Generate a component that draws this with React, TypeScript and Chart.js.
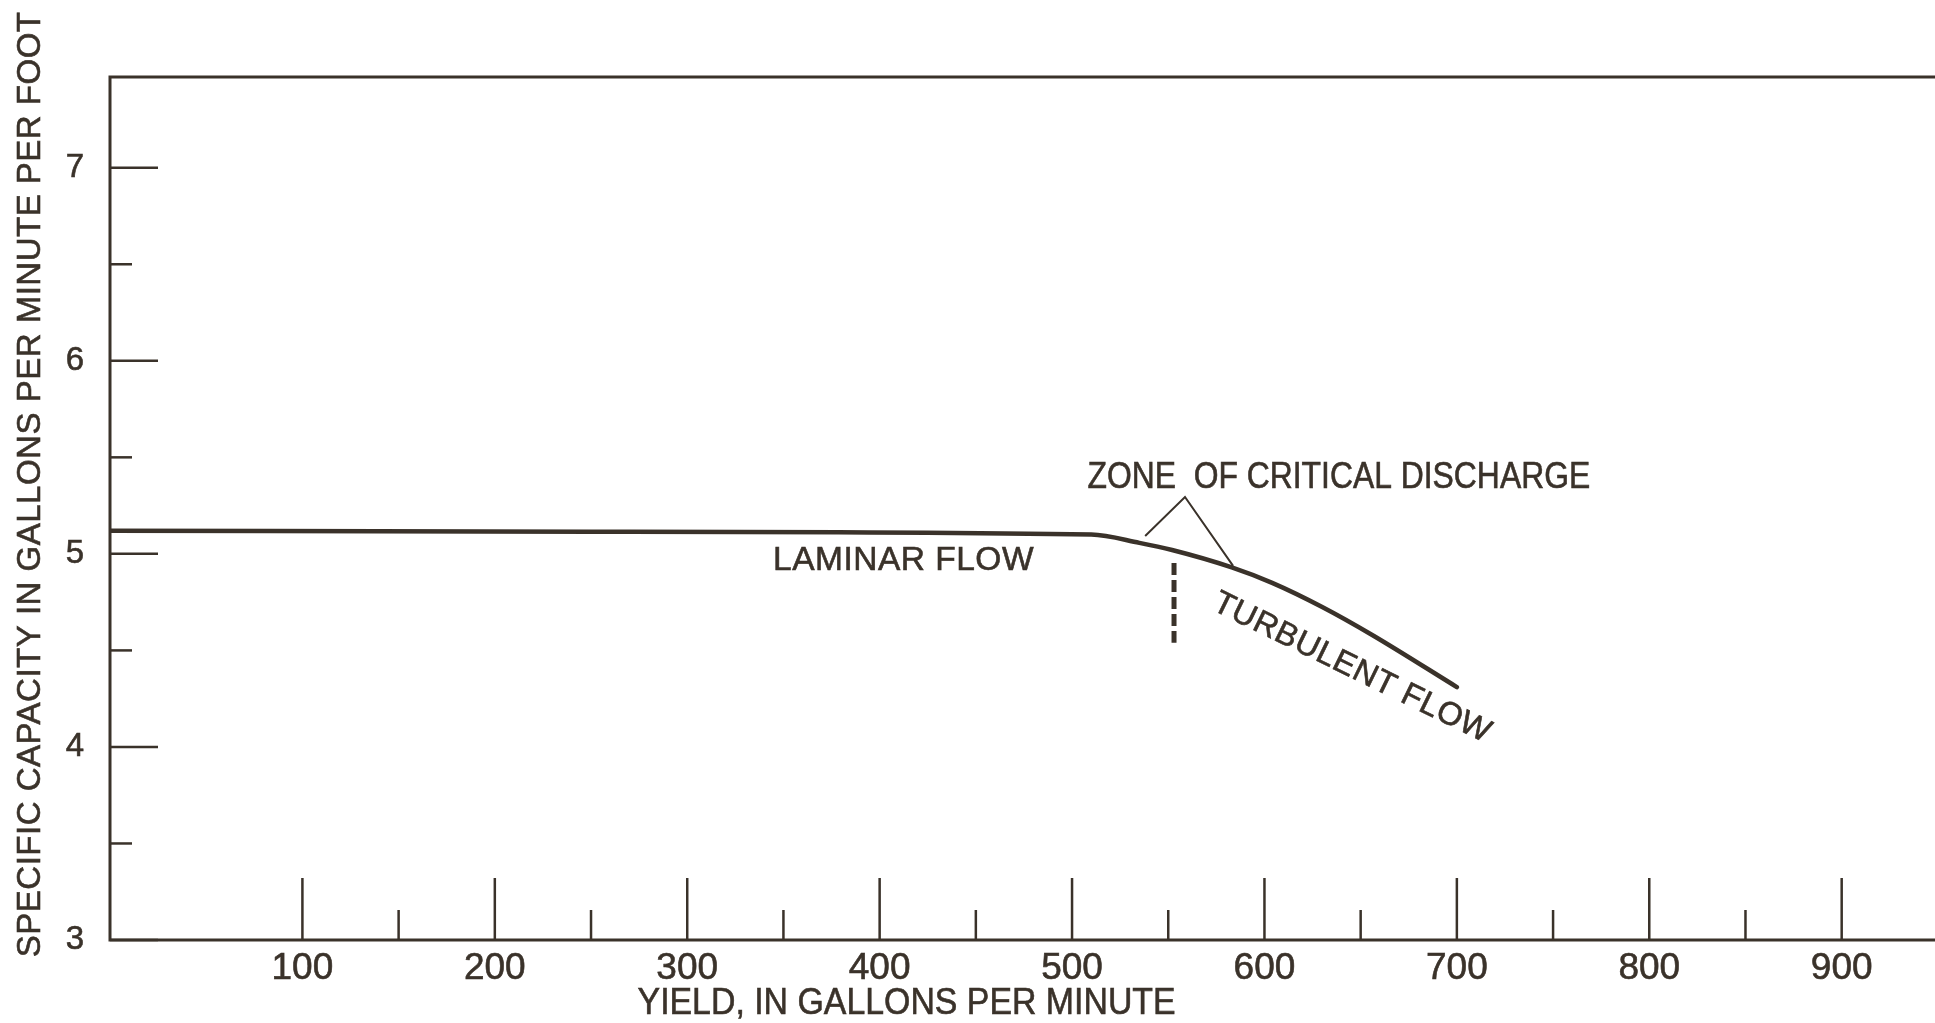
import React, { useEffect, useRef } from "react";
import { Chart, registerables } from "chart.js";

Chart.register(...registerables);

// Specific capacity of the well against pumping rate
const yieldGpm = [0, 250, 510, 535, 552, 583, 604, 630, 656, 700];
const specificCapacity = [5.12, 5.115, 5.1, 5.057, 5.02, 4.93, 4.85, 4.725, 4.58, 4.31];

// Vertical dashed marker at the critical discharge
const criticalYield = [553, 553];
const criticalCapacity = [4.953, 4.54];

// Leader lines from the "zone" label to the curve
const leaderYield = [538, 558.7, 583.7];
const leaderCapacity = [5.093, 5.295, 4.938];

// Axis ticks and labels
const xLabels = [100, 200, 300, 400, 500, 600, 700, 800, 900];
const xMinorTicks = [150, 250, 350, 450, 550, 650, 750, 850];
const yLabels = [3, 4, 5, 6, 7];
const yMinorTicks = [3.5, 4.5, 5.5, 6.5];

const X_MIN = 0;
const X_MAX = 948.5;
const Y_MIN = 3;
const Y_MAX = 7.47;

const xTitle = "YIELD, IN GALLONS PER MINUTE";
const yTitle = "SPECIFIC CAPACITY IN GALLONS PER MINUTE PER FOOT";
const zoneLabel = "ZONE  OF CRITICAL DISCHARGE";
const laminarLabel = "LAMINAR FLOW";
const turbulentLabel = "TURBULENT FLOW";

const INK = "#3a322a";
const SANS = '"Liberation Sans", Arial, sans-serif';

type TextSpec = {
  text: string;
  x: number;
  y: number;
  size: number;
  spacing: number;
  align: CanvasTextAlign;
  baseline: CanvasTextBaseline;
  angle: number;
  squeeze?: number;
};

// Lettering helper: optional horizontal squeeze gives the narrow drafting look
function drawText(ctx: CanvasRenderingContext2D, s: TextSpec) {
  ctx.save();
  ctx.translate(s.x, s.y);
  ctx.rotate((s.angle * Math.PI) / 180);
  ctx.scale(s.squeeze ?? 1, 1);
  ctx.font = `${s.size}px ${SANS}`;
  (ctx as any).letterSpacing = `${s.spacing}px`;
  ctx.fillStyle = INK;
  ctx.strokeStyle = INK;
  ctx.lineWidth = 0.6;
  ctx.textAlign = s.align;
  ctx.textBaseline = s.baseline;
  ctx.fillText(s.text, 0, 0);
  ctx.strokeText(s.text, 0, 0);
  ctx.restore();
}

const inkPlugin = {
  id: "inkFrame",
  beforeDatasetsDraw(chart: any) {
    const { ctx, chartArea } = chart;
    const xs = chart.scales.x;
    const ys = chart.scales.y;
    ctx.save();
    ctx.strokeStyle = INK;
    ctx.lineCap = "butt";

    // frame: left axis, bottom axis, top rule
    ctx.lineWidth = 3;
    ctx.beginPath();
    ctx.moveTo(chartArea.right, chartArea.top);
    ctx.lineTo(chartArea.left, chartArea.top);
    ctx.lineTo(chartArea.left, chartArea.bottom);
    ctx.lineTo(chartArea.right, chartArea.bottom);
    ctx.stroke();

    // inward ticks on the y axis
    ctx.lineWidth = 2.5;
    const tickY = (v: number, len: number) => {
      const py = ys.getPixelForValue(v);
      ctx.beginPath();
      ctx.moveTo(chartArea.left, py);
      ctx.lineTo(chartArea.left + len, py);
      ctx.stroke();
    };
    yLabels.forEach((v) => tickY(v, 48));
    yMinorTicks.forEach((v) => tickY(v, 22));

    // inward ticks on the x axis
    const tickX = (v: number, len: number) => {
      const px = xs.getPixelForValue(v);
      ctx.beginPath();
      ctx.moveTo(px, chartArea.bottom);
      ctx.lineTo(px, chartArea.bottom - len);
      ctx.stroke();
    };
    xLabels.forEach((v) => tickX(v, 62));
    xMinorTicks.forEach((v) => tickX(v, 30));
    ctx.restore();
  },
  afterDatasetsDraw(chart: any) {
    const { ctx, chartArea } = chart;
    const xs = chart.scales.x;
    const ys = chart.scales.y;
    const X = (v: number) => xs.getPixelForValue(v);
    const Y = (v: number) => ys.getPixelForValue(v);

    drawText(ctx, {
      text: zoneLabel, x: X(508), y: Y(5.394),
      size: 36, spacing: 0, align: "left", baseline: "middle", angle: 0, squeeze: 0.885,
    });
    drawText(ctx, {
      text: laminarLabel, x: X(344.6), y: Y(4.965),
      size: 33.5, spacing: 0.5, align: "left", baseline: "middle", angle: 0,
    });
    drawText(ctx, {
      text: turbulentLabel, x: X(578), y: Y(4.83),
      size: 32.5, spacing: 0.5, align: "left", baseline: "top", angle: 26,
    });
    drawText(ctx, {
      text: xTitle, x: X(414), y: chartArea.bottom + 64,
      size: 37, spacing: 0, align: "center", baseline: "middle", angle: 0, squeeze: 0.915,
    });
    drawText(ctx, {
      text: yTitle, x: chartArea.left - 79, y: Y(5.36),
      size: 33, spacing: 0.5, align: "center", baseline: "middle", angle: -90,
    });
  },
};

export default function App() {
  const canvasRef = useRef<HTMLCanvasElement | null>(null);

  useEffect(() => {
    const canvas = canvasRef.current;
    if (!canvas) return;
    const chart = new Chart(canvas, {
      type: "scatter",
      data: {
        datasets: [
          {
            data: yieldGpm.map((x, i) => ({ x, y: specificCapacity[i] })),
            showLine: true,
            borderColor: INK,
            borderWidth: 4.5,
            pointRadius: 0,
            cubicInterpolationMode: "monotone",
            borderCapStyle: "round",
          },
          {
            data: criticalYield.map((x, i) => ({ x, y: criticalCapacity[i] })),
            showLine: true,
            borderColor: INK,
            borderWidth: 5,
            borderDash: [12, 5],
            pointRadius: 0,
          },
          {
            data: leaderYield.map((x, i) => ({ x, y: leaderCapacity[i] })),
            showLine: true,
            borderColor: INK,
            borderWidth: 2,
            pointRadius: 0,
            borderJoinStyle: "miter",
          },
        ],
      },
      options: {
        responsive: false,
        animation: false,
        devicePixelRatio: 1,
        layout: { padding: { top: 77, right: 0, left: 0, bottom: 0 } },
        plugins: {
          legend: { display: false },
          tooltip: { enabled: false },
        },
        scales: {
          x: {
            type: "linear",
            min: X_MIN,
            max: X_MAX,
            grid: { display: false, drawTicks: false },
            border: { display: false },
            afterBuildTicks: (s: any) => {
              s.ticks = xLabels.map((value) => ({ value }));
            },
            afterFit: (s: any) => {
              s.height = 83;
            },
            ticks: {
              autoSkip: false,
              maxRotation: 0,
              color: INK,
              padding: 7,
              textStrokeColor: INK,
              textStrokeWidth: 0.6,
              font: { family: SANS, size: 37 },
              callback: (v: any) => String(v),
            },
          },
          y: {
            type: "linear",
            min: Y_MIN,
            max: Y_MAX,
            grid: { display: false, drawTicks: false },
            border: { display: false },
            afterBuildTicks: (s: any) => {
              s.ticks = yLabels.map((value) => ({ value }));
            },
            afterFit: (s: any) => {
              s.width = 110;
            },
            ticks: {
              autoSkip: false,
              color: INK,
              padding: 26,
              textStrokeColor: INK,
              textStrokeWidth: 0.6,
              font: { family: SANS, size: 33 },
              callback: (v: any) => String(v),
            },
          },
        },
      },
      plugins: [inkPlugin],
    });
    return () => chart.destroy();
  }, []);

  return (
    <div style={{ position: "absolute", left: 0, top: 0, width: 1935, height: 1023, background: "#ffffff" }}>
      <canvas ref={canvasRef} width={1935} height={1023} />
    </div>
  );
}
